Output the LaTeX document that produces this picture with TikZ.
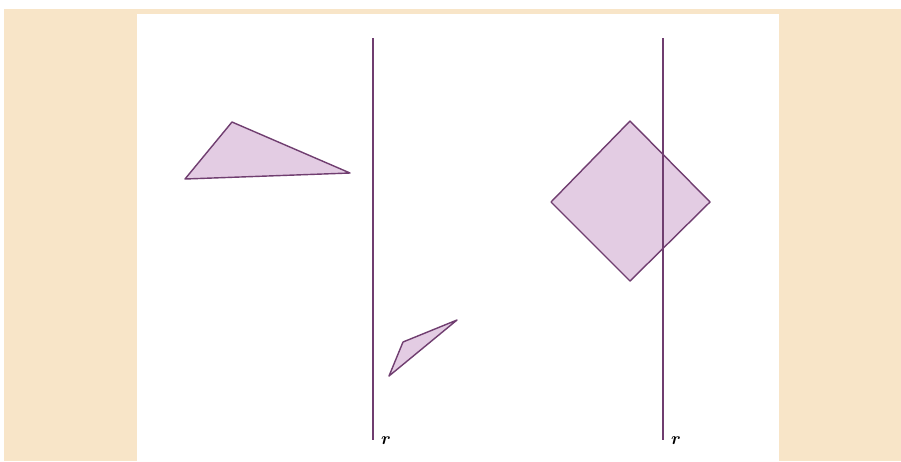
\documentclass[tikz,border=0pt]{standalone}
\definecolor{paper}{RGB}{248,229,200}
\definecolor{edge}{RGB}{112,62,112}
\definecolor{shade}{RGB}{227,204,227}
\tikzset{
  axis/.style={edge,line width=0.9pt},
  figure/.style={draw=edge,fill=shade,line width=0.8pt,line join=round},
  lbl/.style={font=\normalsize\boldmath,inner sep=1pt}
}
\begin{document}
\begin{tikzpicture}[x=0.02cm,y=-0.02cm]
\useasboundingbox (0,0) rectangle (901,461);
\fill[paper] (4,9) rectangle (901,461);
\fill[white] (137,14) rectangle (779,461);
% left panel: two triangles and the axis
\draw[figure] (232,122) -- (185,179) -- (350,173) -- cycle;
\draw[figure] (403,342) -- (389,376) -- (457,320) -- cycle;
\coordinate (top1) at (373,38);
\coordinate (bot1) at (373,440);
\draw[axis] (top1) -- (bot1);
\node[lbl,anchor=west] (r1) at (379,441) {$r$};
% right panel: square across the axis
\draw[figure] (630,121) -- (710,202) -- (630,281) -- (551,202) -- cycle;
\coordinate (top2) at (663,38);
\coordinate (bot2) at (663,440);
\draw[axis] (top2) -- (bot2);
\node[lbl,anchor=west] (r2) at (669,441) {$r$};
\end{tikzpicture}
\end{document}
